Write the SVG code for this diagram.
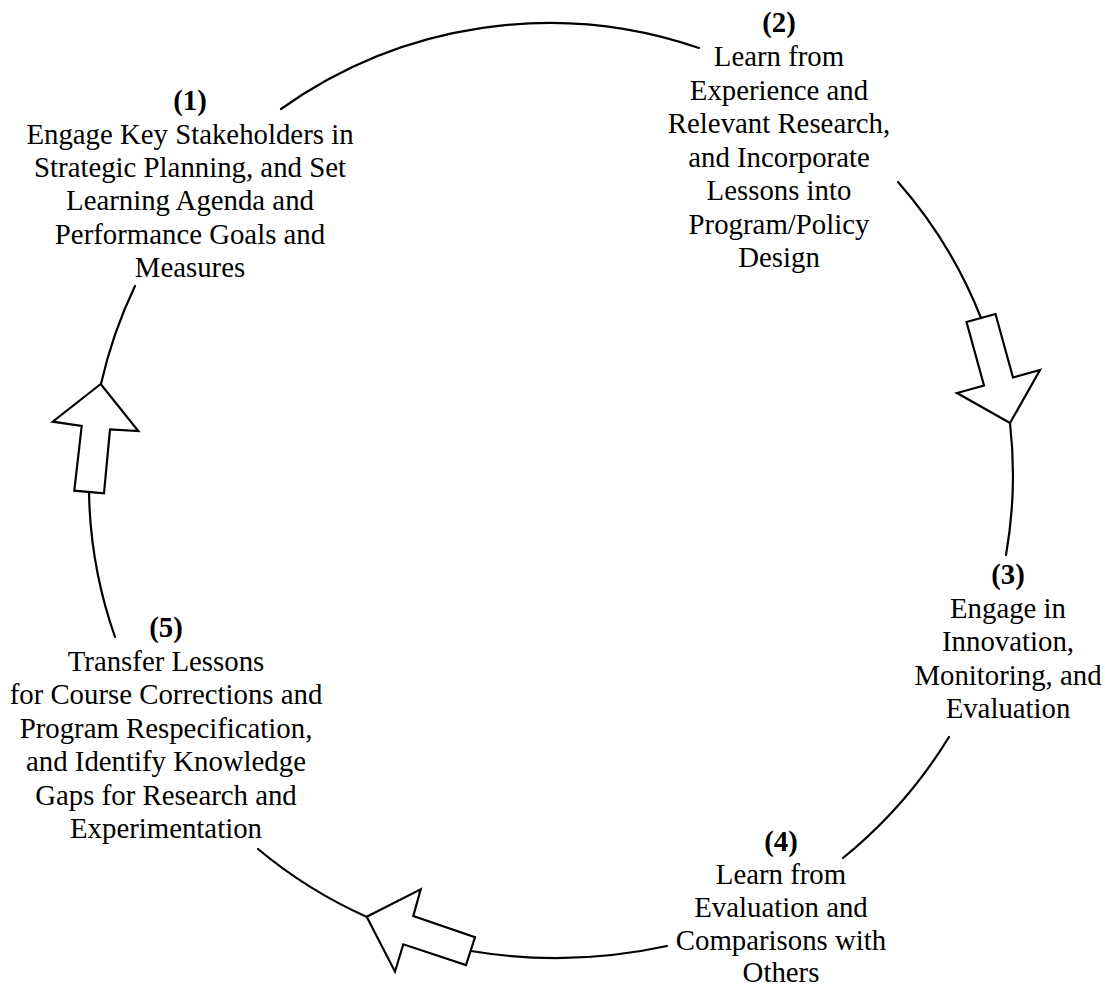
<svg xmlns="http://www.w3.org/2000/svg" width="1105" height="987" viewBox="0 0 1105 987">
<style>
text{font-family:"Liberation Serif","Times New Roman",serif;font-size:28.8px;fill:#000;text-anchor:middle}
.n{font-weight:bold}
.c{fill:none;stroke:#000;stroke-width:2.2;stroke-linecap:round}
.a{fill:#fff;stroke:#000;stroke-width:2.2;stroke-linejoin:miter}
</style>
<rect width="1105" height="987" fill="#fff"/>
<g id="connectors">
<path class="c" d="M281,109 A461,461 0 0 1 699,48"/>
<path class="c" d="M898,182 A462,462 0 0 1 981,318"/>
<path class="c" d="M1010,423 A462,462 0 0 1 1006,555"/>
<path class="c" d="M949,737 A475,475 0 0 1 843,858"/>
<path class="c" d="M667,946 A520,520 0 0 1 471,951"/>
<path class="c" d="M367,917 A467,467 0 0 1 258,849"/>
<path class="c" d="M115,637 A460,460 0 0 1 89,492"/>
<path class="c" d="M101,384 A459,459 0 0 1 135,286"/>
<polygon class="a" points="1010,423 1040,370 1013,377.5 995.5,314 966.5,322 984,385.5 957,393"/>
<polygon class="a" points="100.7,384 52.7,421.7 81.7,426 74.3,490.7 104,493.3 110,429.3 138.3,431"/>
<polygon class="a" points="366.7,916.7 420.7,889.3 413.3,916 475,937.3 466,965 403.3,944.3 395,971.7"/>
</g>
<g id="node1">
<text class="n" x="190" y="110">(1)</text>
<text x="190" y="143.5">Engage Key Stakeholders in</text>
<text x="190" y="177">Strategic Planning, and Set</text>
<text x="190" y="210">Learning Agenda and</text>
<text x="190" y="243.5">Performance Goals and</text>
<text x="190" y="277">Measures</text>
</g>
<g id="node2">
<text class="n" x="779" y="32">(2)</text>
<text x="779" y="66">Learn from</text>
<text x="779" y="99.5">Experience and</text>
<text x="779" y="133">Relevant Research,</text>
<text x="779" y="166.5">and Incorporate</text>
<text x="779" y="200">Lessons into</text>
<text x="779" y="233.5">Program/Policy</text>
<text x="779" y="267">Design</text>
</g>
<g id="node3">
<text class="n" x="1008" y="584">(3)</text>
<text x="1008" y="617.5">Engage in</text>
<text x="1008" y="651">Innovation,</text>
<text x="1008" y="684.5">Monitoring, and</text>
<text x="1008" y="718">Evaluation</text>
</g>
<g id="node4">
<text class="n" x="781" y="851">(4)</text>
<text x="781" y="884">Learn from</text>
<text x="781" y="917">Evaluation and</text>
<text x="781" y="950">Comparisons with</text>
<text x="781" y="982">Others</text>
</g>
<g id="node5">
<text class="n" x="166" y="637">(5)</text>
<text x="166" y="670.5">Transfer Lessons</text>
<text x="166" y="704">for Course Corrections and</text>
<text x="166" y="737.5">Program Respecification,</text>
<text x="166" y="771">and Identify Knowledge</text>
<text x="166" y="804.5">Gaps for Research and</text>
<text x="166" y="838">Experimentation</text>
</g>
</svg>
